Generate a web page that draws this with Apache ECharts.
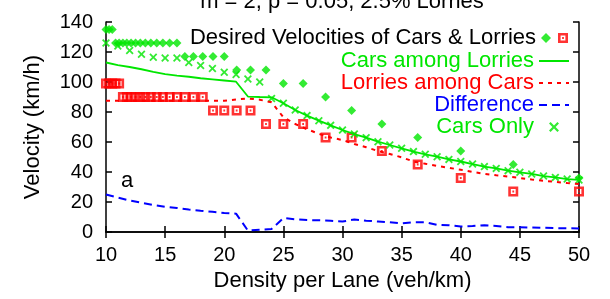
<!DOCTYPE html>
<html>
<head>
<meta charset="utf-8">
<script src="https://cdn.jsdelivr.net/npm/echarts@6/dist/echarts.min.js"></script>
<style>html,body{margin:0;padding:0;background:#fff;}#c{width:610px;height:299px;}</style>
</head>
<body>
<div id="c"></div>
<script>
// ---- data ----
const titleText = 'm = 2, p = 0.05, 2.5% Lorries';
const xTicks = [10, 15, 20, 25, 30, 35, 40, 45, 50];
const yTicks = [0, 20, 40, 60, 80, 100, 120, 140];

// desired velocities (discrete densities)
const desiredDensity = [10, 10.26, 10.53, 10.81, 11.11, 11.43, 11.76, 12.12, 12.5, 12.9, 13.33, 13.79, 14.29, 14.81, 15.38, 16,
  16.67, 17.39, 18.18, 19.05, 20, 21.05, 22.22, 23.53, 25, 26.67, 28.57, 30.77, 33.33, 36.36, 40, 44.44, 50];
const desiredCars = [135, 135, 135, 126, 126, 126, 126, 126, 126, 126, 126, 126, 126, 126, 126, 126,
  117, 117, 117, 117, 117, 108, 108, 108, 99, 99, 90, 81, 72, 63, 54, 45, 36];
const desiredLorries = [99, 99, 99, 99, 99, 90, 90, 90, 90, 90, 90, 90, 90, 90, 90, 90,
  90, 90, 90, 81, 81, 81, 81, 72, 72, 72, 63, 63, 54, 45, 36, 27, 27];

// measured velocities (integer densities 10..50)
const density = [10, 11, 12, 13, 14, 15, 16, 17, 18, 19, 20, 21, 22, 23, 24, 25, 26, 27, 28, 29, 30,
  31, 32, 33, 34, 35, 36, 37, 38, 39, 40, 41, 42, 43, 44, 45, 46, 47, 48, 49, 50];
const carsAmongLorries = [113, 111.3, 110, 108.5, 106.8, 105.2, 104.3, 103.5, 102.5, 101.8, 101, 100.2, 90.3, 90, 89.8,
  85.8, 81.3, 77.6, 74.2, 71.1, 68, 65.3, 62.9, 60.2, 58, 55.8, 53.6, 51.8, 50.2, 48.4, 47, 45.3, 43.6, 42.4, 40.9, 39.8, 38.7, 37.3, 36.4, 35.3, 34.7];
const lorriesAmongCars = [87.5, 87.5, 87.5, 87.5, 87.5, 87.5, 87.5, 87.5, 87.5, 87.5, 87.5, 88.3, 89, 88.2, 86.5,
  76.5, 72, 68.5, 65.5, 63, 61.3, 58.7, 56.5, 54, 52, 49.8, 47, 45.5, 44, 42.8, 41.5, 40, 38.8, 37.8, 37, 36, 35, 34.2, 33.4, 32.6, 32];
const difference = [25, 23, 21, 19.5, 18, 16.8, 16, 15, 14.2, 13.5, 12.7, 12.2, 1, 1.5, 2,
  9.3, 8.5, 8, 7.8, 7.5, 7, 8.3, 7.5, 7, 6.5, 5.8, 6.5, 6.5, 4.8, 4.5, 3.7, 4, 4.5, 4, 3.2, 3.2, 3, 2.8, 2.6, 2.5, 2.4];
const carsOnly = [126, 124, 121, 118.5, 116.5, 116, 116, 113, 111, 109, 106.5, 105, 102, 100,
  89, 85.8, 81.3, 77.6, 74.2, 71.1, 68, 65.3, 62.9, 60.2, 58, 55.8, 53.6, 51.8, 50.2, 48.4, 47, 45.3, 43.6, 42.4, 40.9, 39.8, 38.7, 37.3, 36.4, 35.3, 34.7];

// ---- styling ----
const GREEN = '#00e600', RED = '#ff0000', BLUE = '#0000ff';
const FONT = 'Liberation Sans';
const pair = (xs, ys) => xs.map((x, i) => [x, ys[i]]);
const SQUARE = 'path://M0 0H10V10H0Z M2.6 2.6V7.4H7.4V2.6Z M4.1 4.1H5.9V5.9H4.1Z';
const XMARK = 'path://M0 1.6L1.6 0L5 3.4L8.4 0L10 1.6L6.6 5L10 8.4L8.4 10L5 6.6L1.6 10L0 8.4L3.4 5Z';
const NOSYM = { color: 'rgba(0,0,0,0)', borderWidth: 0, borderColor: 'rgba(0,0,0,0)' };

const axisLine = { show: true, lineStyle: { color: '#000', width: 1.5 } };
const tick = { show: true, inside: true, length: 6, lineStyle: { color: '#000', width: 1.5 } };

const chart = echarts.init(document.getElementById('c'), null, { renderer: 'canvas' });
chart.setOption({
  animation: false,
  backgroundColor: '#fff',
  textStyle: { fontFamily: FONT },
  grid: { left: 106, right: 31, top: 22, bottom: 67 },
  xAxis: [
    { type: 'value', position: 'bottom', min: xTicks[0], max: xTicks[xTicks.length - 1], interval: 5,
      axisLine, axisTick: tick, splitLine: { show: false },
      axisLabel: { fontSize: 20, color: '#000', margin: 13, fontFamily: FONT },
      name: 'Density per Lane (veh/km)', nameLocation: 'middle', nameGap: 36,
      nameTextStyle: { fontSize: 22, color: '#000', fontFamily: FONT } },
    { type: 'value', position: 'top', min: xTicks[0], max: xTicks[xTicks.length - 1], interval: 5,
      axisLine, axisTick: tick, splitLine: { show: false }, axisLabel: { show: false } }
  ],
  yAxis: [
    { type: 'value', position: 'left', min: yTicks[0], max: yTicks[yTicks.length - 1], interval: 20,
      axisLine, axisTick: tick, splitLine: { show: false },
      axisLabel: { fontSize: 20, color: '#000', margin: 13, fontFamily: FONT },
      name: 'Velocity (km/h)', nameLocation: 'middle', nameGap: 62,
      nameTextStyle: { fontSize: 22, color: '#000', fontFamily: FONT } },
    { type: 'value', position: 'right', min: yTicks[0], max: yTicks[yTicks.length - 1], interval: 20,
      axisLine, axisTick: tick, splitLine: { show: false }, axisLabel: { show: false } }
  ],
  legend: [
    { orient: 'vertical', right: 59, top: 27, padding: 0, itemWidth: 10, itemHeight: 10, itemGap: 0,
      textStyle: { fontSize: 22, lineHeight: 22, color: '#000', fontFamily: FONT }, align: 'right',
      data: ['Desired Velocities of Cars & Lorries'] },
    { orient: 'vertical', right: 42, top: 33, padding: 0, itemWidth: 10, itemHeight: 10, itemGap: 0,
      textStyle: { fontSize: 22, lineHeight: 22 }, align: 'right', formatter: () => '',
      data: ['Desired Lorries'] },
    { orient: 'vertical', right: 40, top: 50, padding: 0, itemWidth: 30, itemHeight: 10, itemGap: 0, align: 'right',
      textStyle: { fontSize: 22, lineHeight: 22, fontFamily: FONT },
      data: [
        { name: 'Cars among Lorries', textStyle: { color: GREEN }, itemStyle: NOSYM },
        { name: 'Lorries among Cars', textStyle: { color: RED }, itemStyle: NOSYM },
        { name: 'Difference', textStyle: { color: BLUE }, itemStyle: NOSYM },
        { name: 'Cars Only', textStyle: { color: GREEN } }
      ] }
  ],
  graphic: [
    { type: 'text', x: 342, y: 2, z: 100,
      style: { text: titleText, fontSize: 22, fontFamily: FONT, fill: '#000', textAlign: 'center', textVerticalAlign: 'middle' } },
    { type: 'text', x: 127, y: 181, z: 100,
      style: { text: 'a', fontSize: 22, fontFamily: FONT, fill: '#000', textAlign: 'center', textVerticalAlign: 'middle' } }
  ],
  series: [
    { name: 'Desired Velocities of Cars & Lorries', type: 'scatter', clip: false,
      data: pair(desiredDensity, desiredCars), symbol: 'diamond', symbolSize: 9,
      itemStyle: { color: GREEN } },
    { name: 'Desired Lorries', type: 'scatter', clip: false,
      data: pair(desiredDensity, desiredLorries), symbol: SQUARE, symbolSize: 10,
      itemStyle: { color: RED } },
    { name: 'Cars among Lorries', type: 'line', clip: false, symbol: 'none',
      data: pair(density, carsAmongLorries), lineStyle: { color: GREEN, width: 1.8 }, itemStyle: { color: GREEN } },
    { name: 'Lorries among Cars', type: 'line', clip: false, symbol: 'none',
      data: pair(density, lorriesAmongCars), lineStyle: { color: RED, width: 2, type: [4, 5] }, itemStyle: { color: RED } },
    { name: 'Difference', type: 'line', clip: false, symbol: 'none',
      data: pair(density, difference), lineStyle: { color: BLUE, width: 2, type: [8, 5] }, itemStyle: { color: BLUE } },
    { name: 'Cars Only', type: 'scatter', clip: false,
      data: pair(density, carsOnly), symbol: XMARK, symbolSize: 8, itemStyle: { color: GREEN } }
  ]
});
</script>
</body>
</html>
